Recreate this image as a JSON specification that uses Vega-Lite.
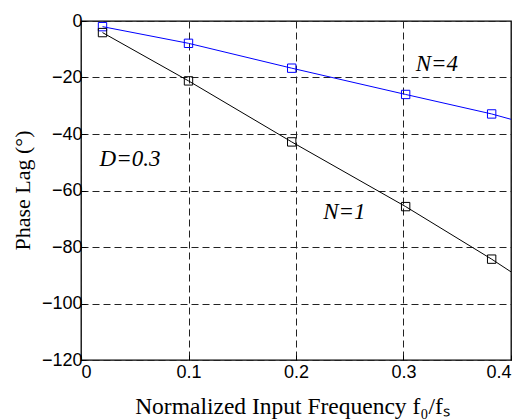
{
  "$schema": "https://vega.github.io/schema/vega-lite/v6.json",
  "width": 430,
  "height": 339,
  "autosize": {"type": "none"},
  "padding": {"left": 81, "top": 21, "right": 17, "bottom": 59},
  "background": "white",
  "config": {
    "view": {"stroke": "black", "strokeWidth": 1.3},
    "axis": {
      "grid": true,
      "gridDash": [7, 4],
      "gridColor": "#222",
      "gridWidth": 1,
      "gridOpacity": 1,
      "domain": false,
      "ticks": true,
      "tickSize": -5,
      "tickColor": "black",
      "labelFont": "Liberation Sans",
      "labelFontSize": 18,
      "labelColor": "black",
      "titleFont": "Liberation Serif",
      "titleFontSize": 22,
      "titleFontWeight": "normal",
      "titleColor": "black"
    }
  },
  "datasets": {
    "curves": [
      {"x": 0.02, "y": -2.0, "N": "N=4"},
      {"x": 0.1, "y": -7.9, "N": "N=4"},
      {"x": 0.196, "y": -16.7, "N": "N=4"},
      {"x": 0.302, "y": -26.0, "N": "N=4"},
      {"x": 0.382, "y": -32.9, "N": "N=4"},
      {"x": 0.4, "y": -34.8, "N": "N=4"},
      {"x": 0.02, "y": -4.1, "N": "N=1"},
      {"x": 0.1, "y": -21.2, "N": "N=1"},
      {"x": 0.196, "y": -42.8, "N": "N=1"},
      {"x": 0.302, "y": -65.7, "N": "N=1"},
      {"x": 0.382, "y": -84.3, "N": "N=1"},
      {"x": 0.4, "y": -88.8, "N": "N=1"}
    ],
    "markers": [
      {"x": 0.02, "y": -2.0, "N": "N=4"},
      {"x": 0.1, "y": -7.9, "N": "N=4"},
      {"x": 0.196, "y": -16.7, "N": "N=4"},
      {"x": 0.302, "y": -26.0, "N": "N=4"},
      {"x": 0.382, "y": -32.9, "N": "N=4"},
      {"x": 0.02, "y": -4.1, "N": "N=1"},
      {"x": 0.1, "y": -21.2, "N": "N=1"},
      {"x": 0.196, "y": -42.8, "N": "N=1"},
      {"x": 0.302, "y": -65.7, "N": "N=1"},
      {"x": 0.382, "y": -84.3, "N": "N=1"}
    ],
    "notes": [
      {"x": 0.331, "y": -15.2, "text": "N=4"},
      {"x": 0.0456, "y": -48.8, "text": "D=0.3"},
      {"x": 0.245, "y": -67.5, "text": "N=1"}
    ]
  },
  "encoding": {
    "x": {
      "field": "x",
      "type": "quantitative",
      "scale": {"domain": [0, 0.4], "nice": false, "zero": false},
      "axis": {
        "values": [0, 0.1, 0.2, 0.3, 0.4],
        "format": "~g",
        "labelPadding": 8,
        "title": "Normalized Input Frequency f₀/fₛ",
        "titleFontSize": 23.5,
        "titleBaseline": "alphabetic",
        "titleY": 53,
        "titleX": 211
      }
    },
    "y": {
      "field": "y",
      "type": "quantitative",
      "scale": {"domain": [-120, 0], "nice": false, "zero": false},
      "axis": {
        "values": [-120, -100, -80, -60, -40, -20, 0],
        "labelPadding": 4,
        "title": "Phase Lag (°)",
        "titleBaseline": "middle",
        "titleAlign": "center",
        "titleX": -59,
        "titleY": 169
      }
    }
  },
  "layer": [
    {
      "data": {"name": "curves"},
      "mark": {"type": "line", "strokeWidth": 1},
      "encoding": {
        "color": {"field": "N", "type": "nominal", "scale": {"domain": ["N=1", "N=4"], "range": ["black", "#0000ff"]}, "legend": null}
      }
    },
    {
      "data": {"name": "markers"},
      "mark": {"type": "point", "shape": "square", "filled": false, "size": 70, "strokeWidth": 1, "opacity": 1},
      "encoding": {
        "color": {"field": "N", "type": "nominal", "scale": {"domain": ["N=1", "N=4"], "range": ["black", "#0000ff"]}, "legend": null}
      }
    },
    {
      "data": {"name": "notes"},
      "mark": {"type": "text", "font": "Liberation Serif", "fontStyle": "italic", "fontSize": 23, "color": "black", "align": "center", "baseline": "middle"},
      "encoding": {
        "text": {"field": "text", "type": "nominal"}
      }
    }
  ]
}
